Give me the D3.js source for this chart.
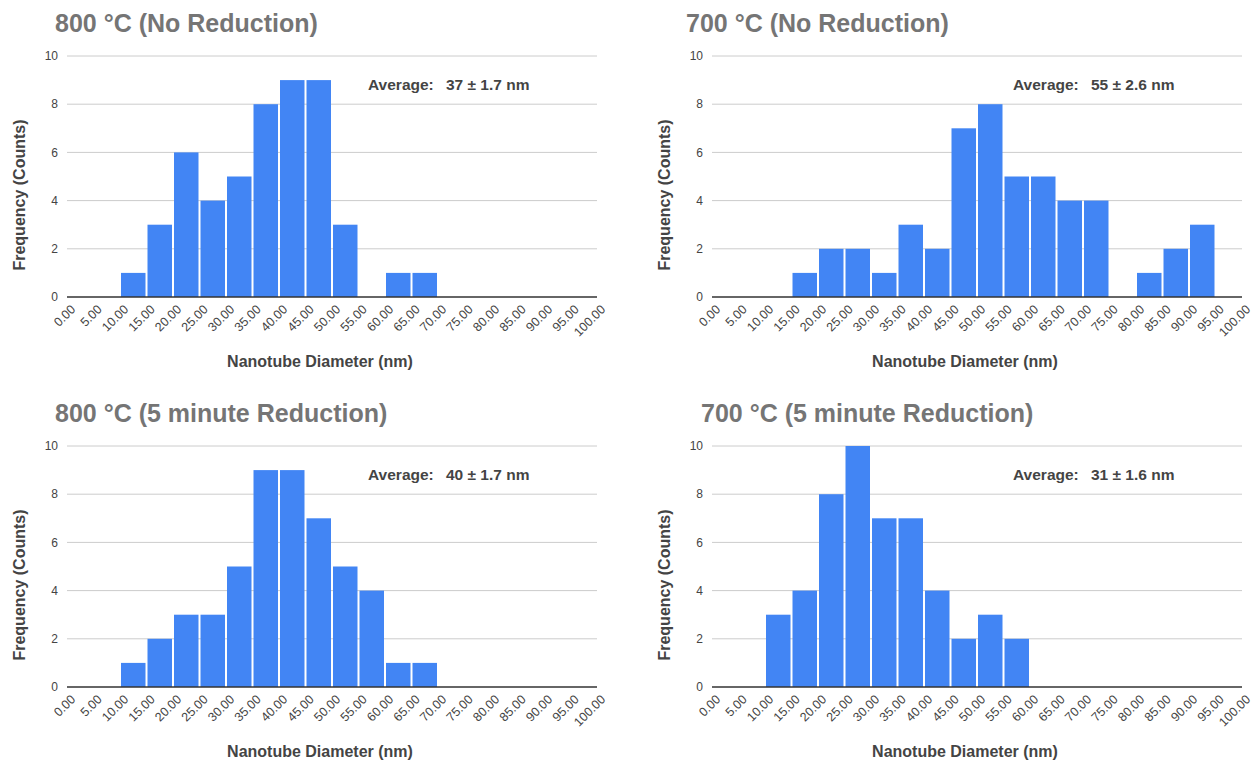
<!DOCTYPE html>
<html>
<head>
<meta charset="utf-8">
<script src="https://cdn.jsdelivr.net/npm/d3@7"></script>
<style>
  body { margin: 0; background: #fff; }
  text { font-family: "Liberation Sans", Arial, sans-serif; }
</style>
</head>
<body>
<div id="chart-area"></div>
<script>
// bin starts, 0..95 (5 nm bins)
var binStarts = d3.range(0, 100, 5);
var xTicks = d3.range(0, 105, 5);
var yTicks = [0, 2, 4, 6, 8, 10];

var titles = ["800 °C (No Reduction)", "700 °C (No Reduction)",
              "800 °C (5 minute Reduction)", "700 °C (5 minute Reduction)"];
var averages = ["37 ± 1.7 nm", "55 ± 2.6 nm", "40 ± 1.7 nm", "31 ± 1.6 nm"];

var counts800NoRed = [0,0,1,3,6,4,5,8,9,9,3,0,1,1,0,0,0,0,0,0];
var counts700NoRed = [0,0,0,1,2,2,1,3,2,7,8,5,5,4,4,0,1,2,3,0];
var counts800Red   = [0,0,1,2,3,3,5,9,9,7,5,4,1,1,0,0,0,0,0,0];
var counts700Red   = [0,0,3,4,8,10,7,7,4,2,3,2,0,0,0,0,0,0,0,0];

var allCounts = [counts800NoRed, counts700NoRed, counts800Red, counts700Red];

var svg = d3.select("#chart-area")
  .append("svg")
    .attr("width", 1252)
    .attr("height", 761);

//panel offsets
var offsets = [[0, 0], [645, 0], [0, 390], [645, 390]];
var titleX = [55, 41, 55, 56];

var plot = {left: 67, right: 597, top: 56, bottom: 297};

var xScale = d3.scaleLinear().domain([0, 100]).range([plot.left, plot.right]);
var yScale = d3.scaleLinear().domain([0, 10]).range([plot.bottom, plot.top]);

allCounts.forEach(function(counts, i){
  var g = svg.append("g")
      .attr("transform", "translate(" + offsets[i][0] + "," + offsets[i][1] + ")");

  //title
  g.append("text")
    .attr("x", titleX[i])
    .attr("y", 32)
    .attr("font-size", "25px")
    .attr("font-weight", "bold")
    .attr("fill", "#757575")
    .text(titles[i]);

  //gridlines
  g.selectAll(".grid")
    .data(yTicks.filter(function(d){ return d > 0; }))
    .enter().append("line")
      .attr("x1", plot.left)
      .attr("x2", plot.right)
      .attr("y1", function(d){ return yScale(d); })
      .attr("y2", function(d){ return yScale(d); })
      .attr("stroke", "#cccccc")
      .attr("stroke-width", 1);

  //y labels
  g.selectAll(".ylab")
    .data(yTicks)
    .enter().append("text")
      .attr("x", 58)
      .attr("y", function(d){ return yScale(d); })
      .attr("dy", "0.35em")
      .attr("text-anchor", "end")
      .attr("font-size", "12px")
      .attr("fill", "#444")
      .text(function(d){ return d; });

  //bars
  var bw = xScale(5) - xScale(0);
  g.selectAll("rect")
    .data(binStarts.map(function(b, j){ return {b: b, c: counts[j]}; })
                   .filter(function(d){ return d.c > 0; }))
    .enter().append("rect")
      .attr("x", function(d){ return xScale(d.b) + 1; })
      .attr("width", bw - 2)
      .attr("y", function(d){ return yScale(d.c); })
      .attr("height", function(d){ return yScale(0) - yScale(d.c); })
      .attr("fill", "#4285f4");

  //x axis line
  g.append("line")
    .attr("x1", plot.left)
    .attr("x2", plot.right)
    .attr("y1", yScale(0))
    .attr("y2", yScale(0))
    .attr("stroke", "#333")
    .attr("stroke-width", 1.5);

  //x labels
  g.selectAll(".xlab")
    .data(xTicks)
    .enter().append("text")
      .attr("transform", function(d){
        return "translate(" + (xScale(d) + 6) + "," + (yScale(0) + 10) + ") rotate(-45)";
      })
      .attr("text-anchor", "end")
      .attr("dy", "0.35em")
      .attr("font-size", "12.5px")
      .attr("fill", "#444")
      .text(function(d){ return d3.format(".2f")(d); });

  //axis titles
  g.append("text")
    .attr("x", 320)
    .attr("y", 367)
    .attr("text-anchor", "middle")
    .attr("font-size", "16px")
    .attr("font-weight", "bold")
    .attr("fill", "#444")
    .text("Nanotube Diameter (nm)");

  g.append("text")
    .attr("transform", "translate(25,195) rotate(-90)")
    .attr("text-anchor", "middle")
    .attr("font-size", "16px")
    .attr("font-weight", "bold")
    .attr("fill", "#444")
    .text("Frequency (Counts)");

  //average annotation
  g.append("text")
    .attr("x", 368)
    .attr("y", 90)
    .attr("font-size", "15.5px")
    .attr("font-weight", "bold")
    .attr("fill", "#444")
    .text("Average:");
  g.append("text")
    .attr("x", 446)
    .attr("y", 90)
    .attr("font-size", "15.5px")
    .attr("font-weight", "bold")
    .attr("fill", "#444")
    .text(averages[i]);
});
</script>
</body>
</html>
